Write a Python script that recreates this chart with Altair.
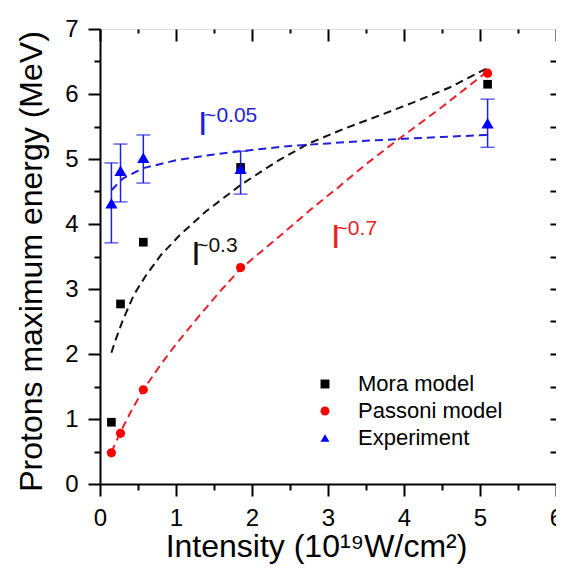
import altair as alt
import pandas as pd

FONT = "Liberation Sans"

# ---- data ----
intensity = [0.15, 0.27, 0.57, 1.85, 5.1]
mora = [0.95, 2.77, 3.72, 4.87, 6.15]
passoni = [0.48, 0.78, 1.45, 3.33, 6.32]
experiment = [4.32, 4.82, 5.02, 4.85, 5.55]
exp_lo = [3.71, 4.34, 4.63, 4.46, 5.18]
exp_hi = [4.94, 5.23, 5.37, 5.12, 5.92]

mora_fit_x = [0.15, 0.2, 0.3, 0.45, 0.6, 0.8, 1.05, 1.4, 1.85, 2.35, 2.75, 3.2, 3.7, 4.1, 4.6, 5.1]
mora_fit_y = [2.02, 2.2, 2.52, 2.92, 3.2, 3.52, 3.83, 4.2, 4.6, 4.98, 5.24, 5.46, 5.68, 5.86, 6.1, 6.4]
passoni_fit_x = [0.15, 0.27, 0.4, 0.57, 0.8, 1.0, 1.3, 1.6, 1.85, 2.35, 2.8, 3.1, 3.5, 3.9, 4.5, 5.1]
passoni_fit_y = [0.49, 0.8, 1.1, 1.45, 1.84, 2.15, 2.58, 2.99, 3.31, 3.8, 4.25, 4.53, 4.92, 5.28, 5.8, 6.35]
exp_fit_x = [0.15, 0.3, 0.57, 1.0, 1.5, 2.0, 2.5, 3.0, 3.5, 4.0, 4.5, 5.1]
exp_fit_y = [4.52, 4.7, 4.86, 4.98, 5.07, 5.14, 5.2, 5.24, 5.28, 5.31, 5.34, 5.37]

series_names = ["Mora model", "Passoni model", "Experiment"]
series_colors = ["#000000", "#ff0000", "#0000ff"]
series_shapes = ["square", "circle", "triangle-up"]
series_sizes = [75, 85, 150]
fit_colors = ["#111111", "#e8202a", "#2020d8"]

ann_text = ["I", "~0.05", "I", "~0.3", "I", "~0.7"]
ann_x = [1.29, 1.37, 1.2, 1.265, 3.04, 3.10]
ann_y = [5.37, 5.57, 3.37, 3.57, 3.63, 3.83]
ann_color = ["#1f1fd6", "#1f1fd6", "#111111", "#111111", "#e81e25", "#e81e25"]
ann_size = [34, 21, 34, 21, 34, 21]

x_major = [0, 1, 2, 3, 4, 5, 6]
x_minor = [0.5, 1.5, 2.5, 3.5, 4.5, 5.5]
y_major = [0, 1, 2, 3, 4, 5, 6, 7]
y_minor = [0.5, 1.5, 2.5, 3.5, 4.5, 5.5, 6.5]
y_right = [0.5, 1, 1.5, 2, 2.5, 3, 3.5, 4, 4.5, 5, 5.5, 6, 6.5]

# ---- tables ----
fit_rows = []
for name, col, xs_, ys_ in zip(series_names, fit_colors,
                               [mora_fit_x, passoni_fit_x, exp_fit_x],
                               [mora_fit_y, passoni_fit_y, exp_fit_y]):
    for a, b in zip(xs_, ys_):
        fit_rows.append({"series": name, "color": col, "x": a, "y": b})
fit_df = pd.DataFrame(fit_rows)

pt_rows = []
for name, sz, vals in zip(series_names, series_sizes, [mora, passoni, experiment]):
    for a, b in zip(intensity, vals):
        pt_rows.append({"series": name, "msize": sz, "x": a, "y": b})
pts_df = pd.DataFrame(pt_rows)

err_df = pd.DataFrame({"x": intensity, "lo": exp_lo, "hi": exp_hi})
ann_df = pd.DataFrame({"text": ann_text, "x": ann_x, "y": ann_y,
                       "color": ann_color, "size": ann_size})

xs = alt.Scale(domain=[0, 6], nice=False, zero=False)
ys = alt.Scale(domain=[0, 7], nice=False, zero=False)

common = dict(grid=False, tickColor="black", tickWidth=2, title=None)

lines = alt.Chart(fit_df).mark_line(strokeDash=[8, 5], strokeWidth=2).encode(
    x=alt.X("x:Q", scale=xs, axis=alt.Axis(
        orient="bottom", values=x_major, format="d", tickSize=12, tickWidth=2,
        tickColor="black", domainColor="black", domainWidth=2, grid=False,
        labelFont=FONT, labelFontSize=24, labelColor="black", labelPadding=10,
        labelFlush=False, labelOverlap=False,
        title="Intensity (10¹⁹W/cm²)", titleFont=FONT, titleFontSize=32,
        titleFontWeight="normal", titleColor="black", titleX=216, titleY=72,
        titleBaseline="alphabetic", titleAlign="center")),
    y=alt.Y("y:Q", scale=ys, axis=alt.Axis(
        orient="left", values=y_major, format="d", tickSize=12, tickWidth=2,
        tickColor="black", domainColor="black", domainWidth=2, grid=False,
        labelFont=FONT, labelFontSize=24, labelColor="black", labelPadding=10,
        labelFlush=False, labelOverlap=False,
        title="Protons maximum energy (MeV)", titleFont=FONT, titleFontSize=32,
        titleFontWeight="normal", titleColor="black", titleX=-59, titleY=232,
        titleAngle=-90, titleBaseline="alphabetic", titleAlign="center")),
    color=alt.Color("color:N", scale=None),
    detail="series:N",
)

rules = alt.Chart(err_df).mark_rule(color="#2020e0", strokeWidth=1.5).encode(
    x=alt.X("x:Q", scale=xs, axis=alt.Axis(orient="top", values=x_major, labels=False,
                                           tickSize=12, offset=-12, domain=False, **common)),
    y=alt.Y("lo:Q", scale=ys, axis=alt.Axis(orient="right", values=y_right, labels=False,
                                            tickSize=6, offset=-6, domain=False, **common)),
    y2="hi:Q",
)

caps = alt.Chart(err_df).transform_fold(["lo", "hi"], as_=["end", "val"]).mark_tick(
    color="#2020e0", thickness=1.5, size=14, orient="horizontal").encode(
    x=alt.X("x:Q", scale=xs, axis=alt.Axis(orient="top", values=x_minor, labels=False,
                                           tickSize=4, offset=-4, domain=False, **common)),
    y=alt.Y("val:Q", scale=ys, axis=None),
)

leg = alt.Legend(orient="none", legendX=214, legendY=344, title=None, padding=0,
                 labelFont=FONT, labelFontSize=22, labelColor="black", labelOffset=22,
                 rowPadding=5, symbolSize=80, symbolStrokeWidth=0)

points = alt.Chart(pts_df).mark_point(filled=True, opacity=1).encode(
    x=alt.X("x:Q", scale=xs, axis=alt.Axis(orient="bottom", values=x_minor, labels=False,
                                           tickSize=6, domain=False, **common)),
    y=alt.Y("y:Q", scale=ys, axis=alt.Axis(orient="left", values=y_minor, labels=False,
                                           tickSize=6, domain=False, **common)),
    color=alt.Color("series:N", scale=alt.Scale(domain=series_names, range=series_colors),
                    sort=series_names, legend=leg),
    shape=alt.Shape("series:N", scale=alt.Scale(domain=series_names, range=series_shapes),
                    sort=series_names, legend=leg),
    size=alt.Size("msize:Q", scale=None),
)

texts = alt.Chart(ann_df).mark_text(align="left", baseline="alphabetic", font=FONT).encode(
    x=alt.X("x:Q", scale=xs, axis=None),
    y=alt.Y("y:Q", scale=ys, axis=None),
    text="text:N",
    color=alt.Color("color:N", scale=None),
    size=alt.Size("size:Q", scale=None),
)

chart = alt.layer(lines, rules, caps, points, texts).resolve_scale(
    x="independent", y="independent"
).properties(
    width=456, height=455,
    autosize=alt.AutoSizeParams(type="none"),
    padding={"left": 92, "top": 21, "right": 0, "bottom": 80},
).configure_view(stroke="black", strokeWidth=2).configure(background="white")

chart.save("out.html", embed_options={"renderer": "svg", "actions": False})
